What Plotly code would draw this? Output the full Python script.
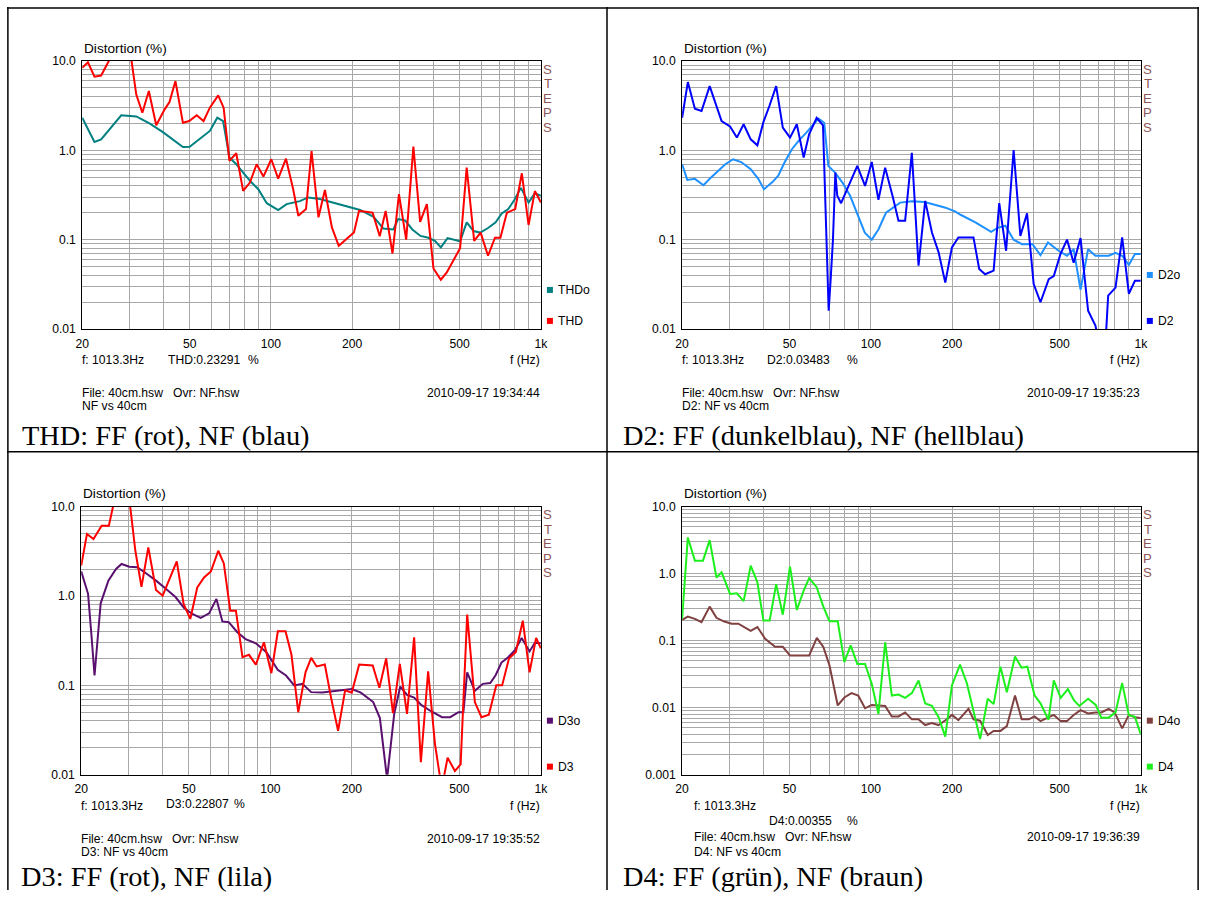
import math
import plotly.graph_objects as go

# Figure size; the page is shown with the browser's 8px body margin and the
# screenshot is scaled by about SX/SY, so reference pixel positions are mapped
# through those factors into figure coordinates.
W, H = 1206, 897
MARGIN = 8
SX = 1206 / 1222
SY = 0.985
SANS = "Liberation Sans, Arial, sans-serif"
SERIF = "Liberation Serif, Times New Roman, serif"
GRID = "#a8a8a8"
STEPS_COLOR = "#8c5656"

# ---------------- data (frequency in Hz, distortion in %) ----------------
thd_f = [20, 21.0, 22.2, 23.5, 25.3, 27.5, 30.4, 31.7, 33.4, 35.3, 37.6, 40.4, 42.1, 44.3, 47.2, 49.8, 53.1,
         56.3, 59.4, 63.8, 66.8, 70.2, 74.4, 78.9, 83.6, 88.5, 93.8, 100.3, 106.4, 113.7, 120.9, 126.3, 134.9,
         141.4, 150, 158.5, 168.2, 178.3, 203, 212, 238, 253, 266, 282, 298, 317, 337, 357, 378, 400, 426, 448,
         502, 531, 566, 598, 637, 676, 708, 748, 803, 850, 900, 950, 1000]
thd_v = [8.4, 9.7, 6.7, 6.9, 10.5, 14, 10.5, 4.24, 2.64, 4.62, 1.91, 2.88, 3.48, 5.97, 2.04, 2.13, 2.47,
         2.13, 3.01, 4.13, 3.01, 0.762, 0.928, 0.352, 0.436, 0.699, 0.509, 0.795, 0.483, 0.807, 0.367, 0.185, 0.22,
         0.98, 0.178, 0.36, 0.137, 0.0854, 0.12, 0.21, 0.2, 0.109, 0.21, 0.070, 0.323, 0.1, 1.10, 0.158, 0.25,
         0.0476, 0.0356, 0.043, 0.08, 0.642, 0.097, 0.12, 0.066, 0.105, 0.105, 0.2, 0.22, 0.554, 0.146, 0.35, 0.26]

thdo_f = [20, 22.2, 23.5, 25.3, 27.9, 31.7, 35.5, 39.8, 44.7, 47.2, 50, 54.6, 59.4, 63.3, 66.5, 70.2, 74.4,
          78.9, 84.8, 89.8, 96.5, 106.4, 114.3, 128, 137.4, 151.7, 170.5, 190, 214, 240, 261, 284, 296, 314,
          334, 358, 383, 405, 426, 451, 502, 531, 563, 596, 637, 680, 716, 757, 798, 843, 900, 950, 1000]
thdo_v = [2.32, 1.24, 1.33, 1.72, 2.47, 2.4, 2.0, 1.6, 1.22, 1.09, 1.1, 1.34, 1.65, 2.32, 2.13, 0.83, 0.70,
          0.564, 0.436, 0.367, 0.256, 0.214, 0.25, 0.27, 0.297, 0.285, 0.26, 0.237, 0.215, 0.18, 0.133, 0.13,
          0.17, 0.164, 0.13, 0.11, 0.105, 0.097, 0.082, 0.104, 0.096, 0.156, 0.125, 0.12, 0.135, 0.156, 0.197,
          0.22, 0.28, 0.38, 0.26, 0.33, 0.31]

d2_f = [20, 21.0, 22.3, 23.6, 25.3, 28.0, 30.1, 31.9, 33.8, 35.9, 38.0, 40.0, 42.1, 44.6, 47.2, 50.2, 53.2,
        56.4, 59.1, 63.0, 66.5, 68.1, 68.9, 69.8, 71.0, 72.4, 73.9, 75.1, 77.6, 82.7, 89.1, 95.2, 100.8, 106.7,
        113, 120.3, 126.6, 134, 141.9, 150.2, 159, 168.4, 178.3, 188.7, 199.7, 211, 240, 252, 265, 285, 299,
        317, 338, 358, 379, 401, 425, 456, 476, 504, 533, 564, 598, 638, 679, 700, 740, 757, 806, 853, 903,
        951, 1000]
d2_v = [2.32, 5.82, 2.93, 2.76, 5.25, 2.13, 1.85, 1.39, 1.96, 1.33, 1.14, 2.07, 3.14, 5.25, 1.80, 1.39, 1.96,
        0.83, 1.52, 2.32, 1.91, 0.2, 0.078, 0.016, 0.036, 0.1, 0.564, 0.31, 0.256, 0.40, 0.67, 0.40, 0.74, 0.28,
        0.64, 0.31, 0.163, 0.163, 0.94, 0.051, 0.272, 0.12, 0.072, 0.033, 0.082, 0.106, 0.106, 0.047, 0.041,
        0.045, 0.256, 0.075, 1.01, 0.11, 0.197, 0.0318, 0.0199, 0.036, 0.039, 0.069, 0.1, 0.055, 0.104, 0.016,
        0.0109, 0.007, 0.007, 0.0236, 0.029, 0.106, 0.0248, 0.0346, 0.0346]

d2o_f = [20, 20.9, 22.3, 24.0, 25.3, 26.8, 28.9, 30.9, 33.1, 35.9, 38.3, 40.2, 43.3, 45.4, 48.0, 51.0, 53.9,
         57.7, 61.2, 64.0, 67.2, 69.6, 73.7, 78.5, 83.8, 88.7, 95, 100.8, 106.7, 113.8, 121.3, 128.4, 142, 158,
         178, 189, 205, 215, 244, 279, 296, 315, 338, 363, 397, 425, 453, 496, 533, 564, 598, 638, 679, 760,
         806, 853, 903, 951, 1000]
d2o_v = [0.70, 0.467, 0.48, 0.407, 0.48, 0.564, 0.70, 0.795, 0.74, 0.615, 0.48, 0.367, 0.444, 0.52, 0.74, 1.03,
         1.27, 1.58, 1.96, 2.27, 2.04, 0.67, 0.564, 0.436, 0.31, 0.20, 0.12, 0.1, 0.13, 0.2, 0.228, 0.26, 0.27,
         0.264, 0.24, 0.228, 0.207, 0.19, 0.156, 0.122, 0.136, 0.143, 0.1, 0.089, 0.089, 0.067, 0.093, 0.075,
         0.066, 0.078, 0.0275, 0.078, 0.066, 0.066, 0.071, 0.066, 0.052, 0.069, 0.069]

d3_f = [20, 21.0, 22.2, 23.8, 25.3, 26.3, 28.3, 30.3, 31.7, 33.4, 35.4, 37.8, 40.0, 42.5, 45.1, 47.8, 50.6,
        53.7, 56.9, 60.3, 64.2, 67.3, 71.1, 74.6, 78.9, 83.4, 88.4, 94.7, 100.9, 106.6, 113.8, 119.7, 126.8,
        134.9, 141.6, 148.3, 159, 168.4, 178, 189, 200, 213, 239, 253, 268, 284, 301, 320, 340, 360, 383, 406,
        430, 452, 481, 505, 534, 570, 603, 642, 684, 719, 762, 808, 857, 908, 960, 1000]
d3_v = [2.19, 4.95, 4.35, 6.13, 6.13, 10.5, 14, 10.5, 3.22, 1.27, 3.51, 1.17, 1.01, 1.55, 2.45, 0.816, 0.555,
        1.25, 1.62, 1.89, 3.22, 2.32, 0.687, 0.687, 0.207, 0.22, 0.171, 0.304, 0.137, 0.404, 0.404, 0.22, 0.050,
        0.14, 0.203, 0.163, 0.171, 0.068, 0.031, 0.088, 0.083, 0.171, 0.167, 0.094, 0.2, 0.049, 0.174, 0.048,
        0.346, 0.0138, 0.144, 0.022, 0.007, 0.0155, 0.011, 0.013, 0.62, 0.065, 0.044, 0.047, 0.10, 0.10, 0.2,
        0.236, 0.53, 0.14, 0.34, 0.26]

d3o_f = [20, 21.2, 21.8, 22.4, 23.6, 25.2, 26.9, 28.2, 30.1, 32.2, 34.7, 37.8, 41.2, 44.7, 48.0, 51.5, 55.3,
         59.4, 63.2, 66.5, 70.2, 75.5, 81.0, 88.4, 96.7, 106.5, 114.3, 122.5, 131.4, 141.6, 155.6, 178, 200,
         216, 240, 254, 270, 287, 302, 320, 340, 362, 394, 431, 462, 496, 517, 534, 570, 610, 650, 680, 715,
         757, 803, 849, 908, 950, 1000]
d3o_v = [1.89, 1.06, 0.377, 0.129, 0.83, 1.49, 2.01, 2.29, 2.13, 2.11, 1.80, 1.49, 1.20, 0.97, 0.736, 0.63,
         0.57, 0.64, 0.93, 0.52, 0.51, 0.394, 0.33, 0.296, 0.235, 0.149, 0.129, 0.1, 0.104, 0.084, 0.083, 0.087,
         0.091, 0.083, 0.065, 0.043, 0.009, 0.048, 0.097, 0.078, 0.073, 0.06, 0.051, 0.044, 0.044, 0.05, 0.05,
         0.14, 0.087, 0.104, 0.106, 0.13, 0.18, 0.207, 0.25, 0.34, 0.24, 0.30, 0.296]

d4_f = [20, 20.6, 21.0, 22.3, 23.9, 25.3, 26.8, 28.0, 30.1, 31.9, 33.8, 35.9, 38.0, 40.0, 42.2, 44.6, 47.2,
        50.2, 53.2, 56.4, 59.1, 63, 66.7, 70.3, 75.4, 79.8, 84.2, 89.1, 95.2, 100.8, 106.7, 113, 119.6, 126.6,
        134, 141.9, 150.2, 159, 168.4, 178.3, 188.7, 199.7, 214, 227, 240, 254, 271, 285, 302, 319, 342, 362,
        380, 404, 425, 455, 476, 505, 537, 565, 592, 638, 681, 714, 760, 806, 853, 903, 951, 1000]
d4_v = [0.212, 1.05, 3.49, 1.57, 1.57, 3.18, 0.88, 1.05, 0.50, 0.51, 0.39, 1.32, 0.745, 0.20, 0.2, 0.70, 0.245,
        1.28, 0.288, 0.56, 0.86, 0.63, 0.323, 0.195, 0.195, 0.048, 0.085, 0.045, 0.045, 0.0227, 0.0081, 0.095,
        0.0152, 0.0157, 0.014, 0.0165, 0.0255, 0.0116, 0.0107, 0.0072, 0.0037, 0.0215, 0.044, 0.023, 0.0091,
        0.0034, 0.0136, 0.0113, 0.041, 0.017, 0.058, 0.0395, 0.041, 0.0153, 0.0116, 0.0066, 0.0255, 0.014,
        0.019, 0.013, 0.0106, 0.0136, 0.011, 0.0071, 0.0071, 0.0085, 0.0233, 0.0077, 0.0073, 0.004]

d4o_f = [20, 21.0, 22.3, 23.6, 25.3, 26.8, 28.5, 30.5, 32.3, 35.9, 38.0, 40.6, 44.2, 47.2, 50.2, 59.1, 63.1,
         66.7, 70.3, 75.4, 79.8, 84.8, 89.8, 95.2, 100.8, 113, 119.6, 126.6, 134, 141.9, 150, 159, 168, 178,
         189, 200, 211, 230, 240, 254, 271, 285, 302, 319, 342, 362, 385, 404, 425, 455, 476, 505, 533, 564,
         598, 638, 679, 714, 760, 800, 853, 903, 951, 1000]
d4o_v = [0.205, 0.23, 0.212, 0.19, 0.323, 0.22, 0.195, 0.18, 0.18, 0.14, 0.16, 0.107, 0.081, 0.081, 0.060, 0.06,
         0.110, 0.081, 0.0426, 0.0108, 0.0142, 0.0165, 0.0152, 0.0098, 0.011, 0.0106, 0.0074, 0.0074, 0.0085,
         0.0067, 0.0067, 0.0055, 0.0059, 0.0055, 0.0065, 0.0078, 0.0065, 0.0096, 0.0067, 0.0064, 0.0039, 0.0045,
         0.0045, 0.0053, 0.0152, 0.0067, 0.0067, 0.0074, 0.0063, 0.0072, 0.0078, 0.0063, 0.0063, 0.0078, 0.0092,
         0.0082, 0.0085, 0.0085, 0.0096, 0.0085, 0.0049, 0.0078, 0.0072, 0.007]

x_grid = [20, 30, 40, 50, 60, 70, 80, 90, 100, 200, 300, 400, 500, 600, 700, 800, 900, 1000]
x_labels = ["20", "", "", "50", "", "", "", "", "100", "200", "", "", "500", "", "", "", "", "1k"]
y_decade_labels = {1: "10.0", 0: "1.0", -1: "0.1", -2: "0.01", -3: "0.001"}

panels = [
    dict(box=(83, 541, 62, 330), ylo=-2,
         series=[(thdo_f, thdo_v, "#008080"), (thd_f, thd_v, "#ff0000")],
         legend=[("THDo", "#008080", 291), ("THD", "#ff0000", 322)],
         readout=("THD:0.23291", 168, 248, 361), date="2010-09-17 19:34:44",
         note="NF vs 40cm", caption="THD: FF (rot), NF (blau)", cap_y=437),
    dict(box=(682, 1140, 62, 330), ylo=-2,
         series=[(d2o_f, d2o_v, "#1e90ff"), (d2_f, d2_v, "#0000ff")],
         legend=[("D2o", "#1e90ff", 276), ("D2", "#0000ff", 322)],
         readout=("D2:0.03483", 766, 846, 361), date="2010-09-17 19:35:23",
         note="D2: NF vs 40cm", caption="D2: FF (dunkelblau), NF (hellblau)", cap_y=437),
    dict(box=(82, 541, 508, 776), ylo=-2,
         series=[(d3o_f, d3o_v, "#5a106e"), (d3_f, d3_v, "#ff0000")],
         legend=[("D3o", "#5a106e", 722), ("D3", "#ff0000", 768)],
         readout=("D3:0.22807", 166, 234, 805), date="2010-09-17 19:35:52",
         note="D3: NF vs 40cm", caption="D3: FF (rot), NF (lila)", cap_y=878),
    dict(box=(682, 1140, 508, 776), ylo=-3,
         series=[(d4o_f, d4o_v, "#804040"), (d4_f, d4_v, "#1cf01c")],
         legend=[("D4o", "#804040", 722), ("D4", "#1cf01c", 768)],
         readout=("D4:0.00355", 768, 846, 822), date="2010-09-17 19:36:39",
         note="D4: NF vs 40cm", caption="D4: FF (grün), NF (braun)", cap_y=878),
]


def px(x):
    return (x / SX - MARGIN) / W


def py(y):
    return 1 - (y / SY - MARGIN) / H


def fs(size):
    return size / SX


fig = go.Figure()
layout = dict(width=W, height=H, margin=dict(l=0, r=0, t=0, b=0), paper_bgcolor="white",
              plot_bgcolor="white", showlegend=False)
annotations = []
shapes = []


def txt(x, y, s, xanchor="left", size=12, family=SANS, color="black"):
    annotations.append(dict(x=px(x), y=py(y), xref="paper", yref="paper", text=s, showarrow=False,
                            xanchor=xanchor, yanchor="middle", borderpad=0,
                            font=dict(family=family, size=fs(size), color=color)))


for i, p in enumerate(panels, 1):
    x0, x1, y0, y1 = p["box"]
    sfx = "" if i == 1 else str(i)
    ylo = p["ylo"]
    yvals, ytext = [], []
    for e in range(ylo, 1):
        for m in range(1, 10):
            yvals.append(m * 10 ** e)
            ytext.append(y_decade_labels[e] if m == 1 else "")
    yvals.append(10)
    ytext.append(y_decade_labels[1])
    layout["xaxis" + sfx] = dict(
        domain=[px(x0), px(x1)], type="log", range=[math.log10(20), 3], anchor="y" + sfx,
        tickmode="array", tickvals=x_grid, ticktext=x_labels, ticks="", showgrid=True, gridcolor=GRID,
        gridwidth=1, showline=True, linecolor="black", linewidth=1, mirror=True, zeroline=False,
        tickfont=dict(family=SANS, size=fs(12), color="black"), ticklabelstandoff=3, fixedrange=True)
    layout["yaxis" + sfx] = dict(
        domain=[py(y1), py(y0)], type="log", range=[ylo, 1], anchor="x" + sfx,
        tickmode="array", tickvals=yvals, ticktext=ytext, ticks="", showgrid=True, gridcolor=GRID,
        gridwidth=1, showline=True, linecolor="black", linewidth=1, mirror=True, zeroline=False,
        tickfont=dict(family=SANS, size=fs(12), color="black"), ticklabelstandoff=3, fixedrange=True)
    for f, v, c in p["series"]:
        fig.add_trace(go.Scatter(x=f, y=v, mode="lines", line=dict(color=c, width=2),
                                 xaxis="x" + sfx, yaxis="y" + sfx, hoverinfo="skip"))

    # texts
    txt(x0 + 1, y0 - 13, "Distortion (%)", size=13.5)
    for k, ch in enumerate("STEPS"):
        txt(x1 + 7, y0 + 8 + 14.5 * k, ch, xanchor="center", size=13, color=STEPS_COLOR)
    for name, col, ly in p["legend"]:
        shapes.append(dict(type="rect", xref="paper", yref="paper", x0=px(x1 + 6), x1=px(x1 + 12),
                           y0=py(ly + 3), y1=py(ly - 3), fillcolor=col, line=dict(width=0)))
        txt(x1 + 16, ly, name, size=12)
    lab, rx, pctx, ry = p["readout"]
    fx = x0 - 1 if i != 4 else x0 + 11
    txt(fx, y1 + 31, "f: 1013.3Hz")
    txt(rx, ry, lab)
    txt(pctx, ry, "%")
    txt(x1, y1 + 31, "f (Hz)", xanchor="right")
    fy = y1 + 64 if i != 4 else y1 + 62
    txt(fx, fy, "File: 40cm.hsw   Ovr: NF.hsw")
    txt(x1, fy, p["date"], xanchor="right")
    txt(fx, y1 + 77, p["note"])
    txt(x0 - 61 if i in (1, 3) else x0 - 60, p["cap_y"], p["caption"], size=28, family=SERIF)

# table borders: inner dividers at their reference place, outer frame on the figure edge
edge = 0.9 / W
shapes.append(dict(type="line", xref="paper", yref="paper", x0=px(607), x1=px(607), y0=0, y1=1,
                   line=dict(color="black", width=1.5)))
shapes.append(dict(type="line", xref="paper", yref="paper", x0=0, x1=1, y0=py(453), y1=py(453),
                   line=dict(color="black", width=1.5)))
shapes.append(dict(type="line", xref="paper", yref="paper", x0=edge, x1=edge, y0=0, y1=1,
                   line=dict(color="black", width=1.5)))
shapes.append(dict(type="line", xref="paper", yref="paper", x0=1 - edge, x1=1 - edge, y0=0, y1=1,
                   line=dict(color="black", width=1.5)))
shapes.append(dict(type="line", xref="paper", yref="paper", x0=0, x1=1, y0=1 - 0.9 / H, y1=1 - 0.9 / H,
                   line=dict(color="black", width=1.5)))

layout["annotations"] = annotations
layout["shapes"] = shapes
fig.update_layout(**layout)
fig.write_html("out.html", config={"displayModeBar": False})
